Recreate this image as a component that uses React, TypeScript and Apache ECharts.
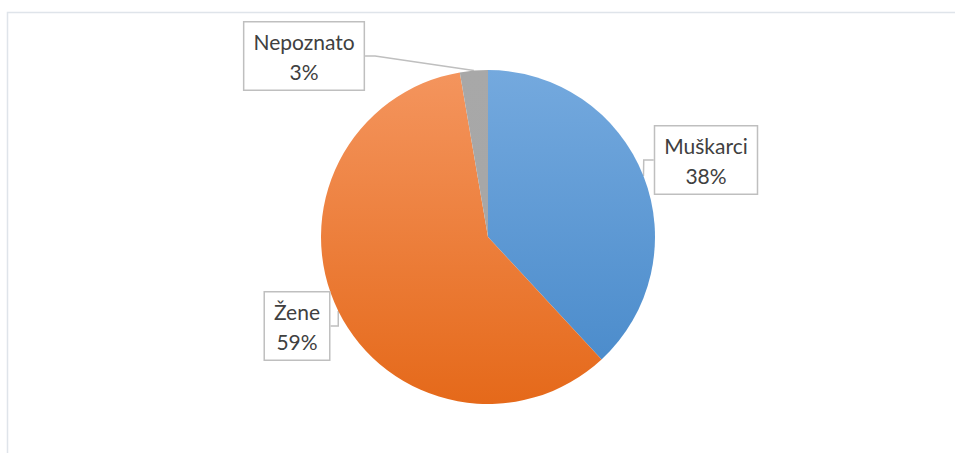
import React, { useEffect, useRef } from "react";
import * as echarts from "echarts";

const categories = ["Muškarci", "Žene", "Nepoznato"];
const values = [38.1, 59.2, 2.7];

const topColors = ["#74A9DE", "#F4955E", "#A8A8A8"];
const bottomColors = ["#4688C9", "#E5691A", "#A5A5A5"];
const labelPos: [number, number][] = [
  [706, 160],
  [297, 326],
  [304, 56],
];

export default function App() {
  const ref = useRef<HTMLDivElement>(null);
  useEffect(() => {
    if (!ref.current) return;
    const chart = echarts.init(ref.current, null, { renderer: "svg" });
    const grad = (i: number) => ({
      type: "linear",
      x: 0,
      y: 70,
      x2: 0,
      y2: 404,
      global: true,
      colorStops: [
        { offset: 0, color: topColors[i] },
        { offset: 1, color: bottomColors[i] },
      ],
    });
    chart.setOption({
      animation: false,
      backgroundColor: "#ffffff",
      graphic: [
        {
          type: "rect",
          shape: { x: 7.5, y: 12.5, width: 1000, height: 500 },
          style: { fill: "none", stroke: "#DFE4EA", lineWidth: 1.5 },
          silent: true,
        },
      ],
      series: [
        {
          type: "pie",
          center: [488, 237],
          radius: 167,
          startAngle: 90,
          clockwise: true,
          avoidLabelOverlap: false,
          itemStyle: { borderWidth: 0 },
          label: {
            show: true,
            position: "outside",
            formatter: (p: any) => `${p.name}\n${Math.round(p.percent)}%`,
            fontFamily: "Lato, 'Open Sans', sans-serif",
            fontSize: 21,
            lineHeight: 30,
            color: "#404040",
            align: "center",
            backgroundColor: "#ffffff",
            borderColor: "#BFBFBF",
            borderWidth: 1.5,
            padding: [4, 9, 3, 9],
          },
          labelLine: {
            show: true,
            length: 10,
            length2: 10,
            lineStyle: { color: "#BFBFBF", width: 1.5 },
          },
          labelLayout: (params: any) => {
            const [x, y] = labelPos[params.dataIndex];
            return { x, y, align: "center", verticalAlign: "middle" };
          },
          data: categories.map((name, i) => ({
            name,
            value: values[i],
            itemStyle: { color: grad(i) },
          })),
        },
      ],
    });
    return () => chart.dispose();
  }, []);
  return (
    <div
      ref={ref}
      style={{ position: "fixed", left: 0, top: 0, width: 955, height: 453 }}
    />
  );
}
